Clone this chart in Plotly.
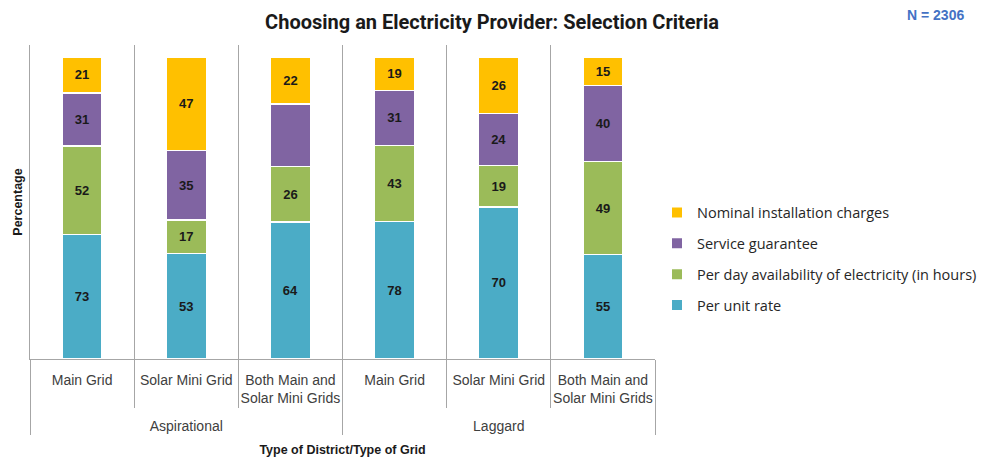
import plotly.graph_objects as go

# Survey groupings (outer level) and grid types (inner level)
districts = ["Aspirational"] * 3 + ["Laggard"] * 3
grids = ["Main Grid", "Solar Mini Grid", "Both Main and<br>Solar Mini Grids<br>\u00a0"] * 2

# Responses per criterion (shares of mentions, stacked to 100%)
per_unit_rate = [73, 53, 64, 78, 70, 55]
per_day_availability = [52, 17, 26, 43, 19, 49]
service_guarantee = [31, 35, 29, 31, 24, 40]
nominal_installation = [21, 47, 22, 19, 26, 15]

# The service-guarantee segment for the combined Aspirational grid is shown without its label
service_labels = ["31", "35", "", "31", "24", "40"]

# (name, values, colour, labels, legend rank) -- stacked bottom to top
series = [
    ("Per unit rate", per_unit_rate, "#4BACC6", [str(v) for v in per_unit_rate], 4),
    ("Per day availability of electricity (in hours)", per_day_availability, "#9BBB59",
     [str(v) for v in per_day_availability], 3),
    ("Service guarantee", service_guarantee, "#8064A2", service_labels, 2),
    ("Nominal installation charges", nominal_installation, "#FFC000",
     [str(v) for v in nominal_installation], 1),
]

fig = go.Figure()
for name, vals, color, labels, rank in series:
    fig.add_trace(go.Bar(
        name=name,
        legendgroup=name,
        legendrank=rank,
        x=[districts, grids],
        y=vals,
        text=labels,
        textposition="inside",
        insidetextanchor="middle",
        textangle=0,
        textfont=dict(family="Arial", size=13, color="#1a1a1a", weight="bold"),
        marker=dict(color=color, line=dict(color="white", width=1.5)),
        hovertemplate="%{x}<br>" + name + ": %{y}<extra></extra>",
    ))

axis_gray = "#a6a6a6"

# pixel geometry of the page and the plotting area
W, H = 984, 459
L, T, B = 30, 45, 100
plot_right = 655
paper_w = W - L
plot_h = H - T - B


def px_x(px):
    return (px - L) / paper_w


def px_y(py):
    return (H - B - py) / plot_h


fig.update_layout(
    width=W,
    height=H,
    barmode="stack",
    barnorm="percent",
    bargap=0.615,
    plot_bgcolor="white",
    paper_bgcolor="white",
    margin=dict(l=L, r=0, t=T, b=B, autoexpand=False),
    title=dict(
        text="<b>Choosing an Electricity Provider: Selection Criteria</b>",
        x=0.5, xanchor="center", y=1 - 22 / H, yanchor="middle",
        font=dict(family="Roboto", size=20, color="#1a1a1a"),
    ),
    font=dict(family="Arial", size=13, color="#404040"),
    legend=dict(
        x=px_x(657), xanchor="left", y=px_y(259), yanchor="middle",
        traceorder="grouped",
        font=dict(family="Open Sans", size=14.5, color="#262626"),
        tracegroupgap=9, itemsizing="constant",
        bgcolor="rgba(0,0,0,0)",
    ),
    uniformtext=dict(minsize=8, mode="show"),
    annotations=[dict(
        text="<b>N = 2306</b>", xref="paper", yref="paper",
        x=px_x(935), y=px_y(15), xanchor="center", yanchor="middle", showarrow=False,
        font=dict(family="Arial", size=14, color="#4472C4"),
    )],
)

fig.update_xaxes(
    type="multicategory",
    domain=[0, px_x(plot_right)],
    automargin=False,
    tickangle=0,
    showline=True, linecolor=axis_gray, linewidth=1,
    showgrid=True, gridcolor=axis_gray, gridwidth=1,
    tickson="boundaries", ticks="outside", ticklen=48, tickcolor=axis_gray,
    ticklabelstandoff=8,
    showdividers=True, dividercolor=axis_gray, dividerwidth=1,
    tickfont=dict(family="Arial", size=14, color="#404040"),
    title=dict(text="<b>Type of District/Type of Grid</b>",
               font=dict(family="Arial", size=12.5, color="#1a1a1a"), standoff=12),
)
fig.update_yaxes(
    range=[0, 104], showticklabels=False, showgrid=False, zeroline=False,
    automargin=False,
    showline=True, linecolor=axis_gray, linewidth=1, ticks="",
    title=dict(text="<b>Percentage</b>", font=dict(family="Arial", size=12.5, color="#1a1a1a"),
               standoff=3),
)

fig.write_html("out.html")
